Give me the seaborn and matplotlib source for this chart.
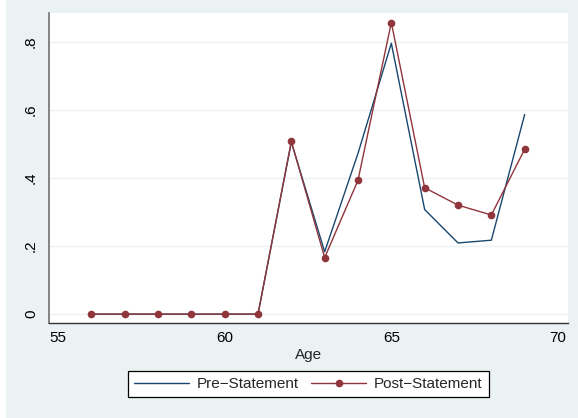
import numpy as np
import pandas as pd
import matplotlib
matplotlib.use("Agg")
import matplotlib.pyplot as plt
from matplotlib.patches import Rectangle
import seaborn as sns

# data
age = [56, 57, 58, 59, 60, 61, 62, 63, 64, 65, 66, 67, 68, 69]
pre_statement = [0, 0, 0, 0, 0, 0, 0.505, 0.183, 0.472, 0.795, 0.307, 0.209, 0.217, 0.586]
post_statement = [0, 0, 0, 0, 0, 0, 0.507, 0.166, 0.393, 0.856, 0.371, 0.320, 0.291, 0.484]
y_ticks = [0, 0.2, 0.4, 0.6, 0.8]
y_ticklabels = ["0", ".2", ".4", ".6", ".8"]
x_ticks = [55, 60, 65, 70]

df = pd.DataFrame({"age": age, "pre": pre_statement, "post": post_statement})

sns.set_style("white")
plt.rcParams["font.family"] = ["Liberation Sans", "DejaVu Sans"]
fs = 11

bg = "#EAF2F3"
navy = "#1A476F"
maroon = "#90353B"

W, H = 578, 418
fig = plt.figure(figsize=(W / 100, H / 100), dpi=100, facecolor="white")
fig.patches.append(Rectangle((6 / W, 0), 1, 1, transform=fig.transFigure,
                             facecolor=bg, edgecolor="none", zorder=-10))

ax = fig.add_axes([49 / W, 1 - 323 / H, (568 - 49) / W, (323 - 13) / H])
ax.set_facecolor("white")

sns.lineplot(data=df, x="age", y="pre", color=navy, linewidth=1.0,
             label="Pre\u2212Statement", ax=ax, legend=False)
sns.lineplot(data=df, x="age", y="post", color=maroon, linewidth=1.0,
             marker="o", markersize=5.5, markeredgewidth=0,
             label="Post\u2212Statement", ax=ax, legend=False)

ax.set_xlim(54.73, 70.3)
ax.set_ylim(-0.026, 0.884)
ax.set_xticks(x_ticks)
ax.set_xticklabels([str(t) for t in x_ticks])
ax.set_yticks(y_ticks)
ax.set_yticklabels(y_ticklabels, rotation=90, va="center")

ax.yaxis.grid(True, color=bg, linewidth=1.0)
ax.set_axisbelow(True)

for side in ["top", "right"]:
    ax.spines[side].set_visible(False)
ax.spines["left"].set_color("#707070")
ax.spines["left"].set_linewidth(1.2)
ax.spines["bottom"].set_color("#333333")
ax.spines["bottom"].set_linewidth(1.0)
ax.tick_params(axis="both", direction="out", length=5, width=0.8,
               color="#555555", labelsize=fs, labelcolor="black")
ax.tick_params(axis="y", pad=3)
ax.tick_params(axis="x", pad=1)

ax.set_xlabel("Age", fontsize=fs, labelpad=2)
ax.set_ylabel("")

handles, labels = ax.get_legend_handles_labels()
leg = fig.legend(handles, labels, loc="center", ncol=2,
                 bbox_to_anchor=(308.5 / W, 1 - 384 / H),
                 frameon=True, fancybox=False, edgecolor="black",
                 facecolor="white", framealpha=1, handlelength=3.6,
                 columnspacing=0.8, handletextpad=0.5, borderpad=0.4,
                 fontsize=fs)
leg.get_frame().set_linewidth(0.9)

fig.savefig("out.png", dpi=100, facecolor=fig.get_facecolor())
